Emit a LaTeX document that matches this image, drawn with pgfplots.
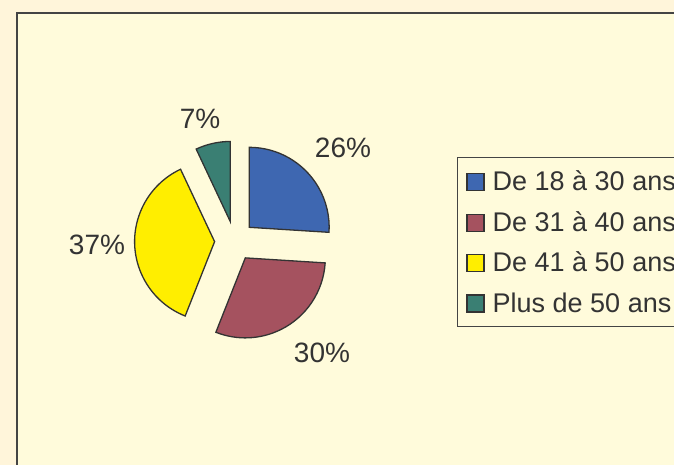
\documentclass[border=0pt]{standalone}
\usepackage{pgfplots}
\pgfplotsset{compat=1.18}
\usepackage{pgfplotstable}
\usepackage{fontspec}
\setmainfont{Liberation Sans}

\definecolor{outerbg}{HTML}{FFF5DA}
\definecolor{panelbg}{HTML}{FFFBDB}
\definecolor{framec}{HTML}{444444}
\definecolor{edge}{HTML}{333333}
\definecolor{txt}{HTML}{333333}
\definecolor{sliceblue}{HTML}{3E67B1}
\definecolor{slicered}{HTML}{A5525F}
\definecolor{sliceyellow}{HTML}{FFEE00}
\definecolor{sliceteal}{HTML}{3A7F73}

% share of each age group, in %, with where its label sits
\pgfplotstableread{
label value col labx laby
{De 18 à 30 ans} 26 sliceblue 343 317
{De 31 à 40 ans} 30 slicered 322 112.5
{De 41 à 50 ans} 37 sliceyellow 97 220
{Plus de 50 ans} 7 sliceteal 200 346.5
}\piedata

% pie geometry (1 unit = 1 px of the reference)
\def\cx{234.6}\def\cy{224}
\def\rad{80}\def\gap{20}

% slices clockwise from 12 o'clock, each pushed out along its bisector
\def\cum{0}%
\pgfplotsforeachungrouped \i in {0,...,3}{%
  \pgfplotstablegetelem{\i}{value}\of\piedata
  \let\val\pgfplotsretval
  \pgfplotstablegetelem{\i}{col}\of\piedata
  \colorlet{pie\i}{\pgfplotsretval}%
  \pgfplotstablegetelem{\i}{labx}\of\piedata
  \expandafter\xdef\csname lx\i\endcsname{\pgfplotsretval}%
  \pgfplotstablegetelem{\i}{laby}\of\piedata
  \expandafter\xdef\csname ly\i\endcsname{\pgfplotsretval}%
  \pgfmathsetmacro\s{90-3.6*\cum}%
  \pgfmathsetmacro\cum{\cum+\val}%
  \pgfmathsetmacro\e{90-3.6*\cum}%
  \pgfmathsetmacro\m{(\s+\e)/2}%
  \pgfmathsetmacro\ax{\cx+\gap*cos(\m)}%
  \pgfmathsetmacro\ay{\cy+\gap*sin(\m)}%
  \expandafter\xdef\csname ps\i\endcsname{\s}%
  \expandafter\xdef\csname pe\i\endcsname{\e}%
  \expandafter\xdef\csname ax\i\endcsname{\ax}%
  \expandafter\xdef\csname ay\i\endcsname{\ay}%
  \expandafter\xdef\csname pv\i\endcsname{\val}%
}

\newcommand\lbl{\fontsize{28bp}{32bp}\selectfont}
\newcommand\leg{\fontsize{27bp}{32bp}\selectfont}

\begin{document}
\begin{tikzpicture}
\path[use as bounding box, fill=outerbg] (0,0) rectangle (674bp,465bp);
\clip (0,0) rectangle (674bp,465bp);
\filldraw[fill=panelbg, draw=framec, line width=2bp] (17bp,-20bp) rectangle (720bp,452bp);
\begin{axis}[
    at={(0,0)}, anchor=south west,
    scale only axis,
    x=1bp, y=1bp,
    xmin=0, xmax=674, ymin=0, ymax=465,
    hide axis,
    clip=false,
    legend image code/.code={\draw[#1, line width=1.3bp] (0bp,0bp) rectangle (17bp,17bp);},
    legend style={
        at={(axis cs:457,308)}, anchor=north west,
        draw=framec, line width=0.8bp, fill=panelbg,
        font=\leg, text=txt,
        inner xsep=9bp, inner ysep=14bp,
        row sep=20.5bp,
        cells={anchor=base west},
        nodes={inner sep=0pt, text height=19.3bp, text depth=0bp},
        /tikz/every odd column/.append style={column sep=8bp},
    },
]
\pgfplotsinvokeforeach{0,...,3}{
  \filldraw[fill=pie#1, draw=edge, line width=1.3bp, line join=miter]
    (axis cs:\csname ax#1\endcsname,\csname ay#1\endcsname)
    -- ++(\csname ps#1\endcsname:\rad bp)
    arc[start angle=\csname ps#1\endcsname, end angle=\csname pe#1\endcsname, radius=\rad bp]
    -- cycle;
  \node[font=\lbl, text=txt] at (axis cs:\csname lx#1\endcsname,\csname ly#1\endcsname)
    {\csname pv#1\endcsname\%};
}
\addlegendimage{fill=pie0, draw=edge}\addlegendentry{De 18 à 30 ans}
\addlegendimage{fill=pie1, draw=edge}\addlegendentry{De 31 à 40 ans}
\addlegendimage{fill=pie2, draw=edge}\addlegendentry{De 41 à 50 ans}
\addlegendimage{fill=pie3, draw=edge}\addlegendentry{Plus de 50 ans}
\end{axis}
\end{tikzpicture}
\end{document}
